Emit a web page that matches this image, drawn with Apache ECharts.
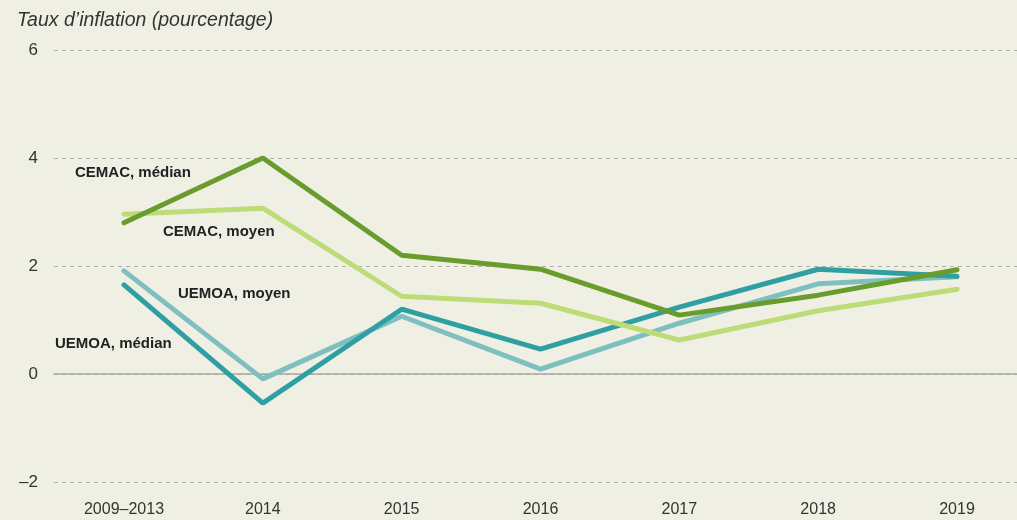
<!DOCTYPE html>
<html>
<head>
<meta charset="utf-8">
<script src="https://cdn.jsdelivr.net/npm/echarts@6/dist/echarts.min.js"></script>
<style>
  html, body { margin: 0; padding: 0; background: #eff0e3; }
  #chart { width: 1017px; height: 520px; }
</style>
</head>
<body>
<div id="chart"></div>
<script>
const categories = ['2009–2013', '2014', '2015', '2016', '2017', '2018', '2019'];
const cemacMedian = [2.8, 4.0, 2.2, 1.94, 1.09, 1.46, 1.93];
const cemacMoyen = [2.96, 3.07, 1.44, 1.31, 0.63, 1.17, 1.57];
const uemoaMoyen = [1.91, -0.09, 1.07, 0.09, 0.94, 1.67, 1.8];
const uemoaMedian = [1.65, -0.54, 1.2, 0.46, 1.24, 1.94, 1.81];
const yTicks = { min: -2, max: 6, interval: 2 };

const chart = echarts.init(document.getElementById('chart'));
const font = 'Liberation Sans, Arial, sans-serif';

function line(name, data, color) {
  return {
    name: name,
    type: 'line',
    xAxisIndex: 0,
    yAxisIndex: 0,
    data: data,
    symbol: 'none',
    lineStyle: { color: color, width: 5, cap: 'round' },
    itemStyle: { color: color }
  };
}

const series = [
  line('UEMOA, moyen', uemoaMoyen, '#7fbfc0'),
  line('UEMOA, médian', uemoaMedian, '#2f9fa3'),
  line('CEMAC, moyen', cemacMoyen, '#bddc78'),
  line('CEMAC, médian', cemacMedian, '#689c2c')
];

function tag(text, left, top) {
  return {
    type: 'text', left: left, top: top,
    style: { text: text, font: 'bold 15px "Liberation Sans", Arial, sans-serif', fill: '#222' }
  };
}

chart.setOption({
  backgroundColor: '#eff0e3',
  animation: false,
  // grid 0: data, grid 1: full-width background lines and y labels
  grid: [
    { left: 124, right: 60, top: 50, bottom: 38 },
    { left: 54, right: 0, top: 50, bottom: 38 }
  ],
  title: {
    text: 'Taux d’inflation (pourcentage)',
    left: 12, top: 6,
    textStyle: { fontFamily: font, fontSize: 19.5, fontStyle: 'italic', fontWeight: 'normal', color: '#333' }
  },
  xAxis: [
    {
      type: 'category',
      gridIndex: 0,
      data: categories,
      boundaryGap: false,
      axisLine: { show: false },
      axisTick: { show: false },
      axisLabel: { color: '#333', fontFamily: font, fontSize: 16, margin: 20 }
    },
    {
      type: 'value',
      gridIndex: 1,
      min: 0, max: 1,
      axisLine: { show: true, onZero: true, lineStyle: { color: '#a8a8a0', width: 1.5 } },
      axisTick: { show: false },
      axisLabel: { show: false },
      splitLine: { show: false }
    }
  ],
  yAxis: [
    Object.assign({
      type: 'value',
      gridIndex: 0,
      show: false,
      splitLine: { show: false }
    }, yTicks),
    Object.assign({
      type: 'value',
      gridIndex: 1,
      axisLine: { show: false },
      axisTick: { show: false },
      axisLabel: {
        color: '#333', fontFamily: font, fontSize: 17, margin: 16,
        formatter: v => String(v).replace('-', '–')
      },
      splitLine: { lineStyle: { color: '#b0b0aa', type: [4, 4], width: 1 } }
    }, yTicks)
  ],
  graphic: [
    tag('CEMAC, médian', 75, 165),
    tag('CEMAC, moyen', 163, 224),
    tag('UEMOA, moyen', 178, 286),
    tag('UEMOA, médian', 55, 336)
  ],
  series: series
});
</script>
</body>
</html>
